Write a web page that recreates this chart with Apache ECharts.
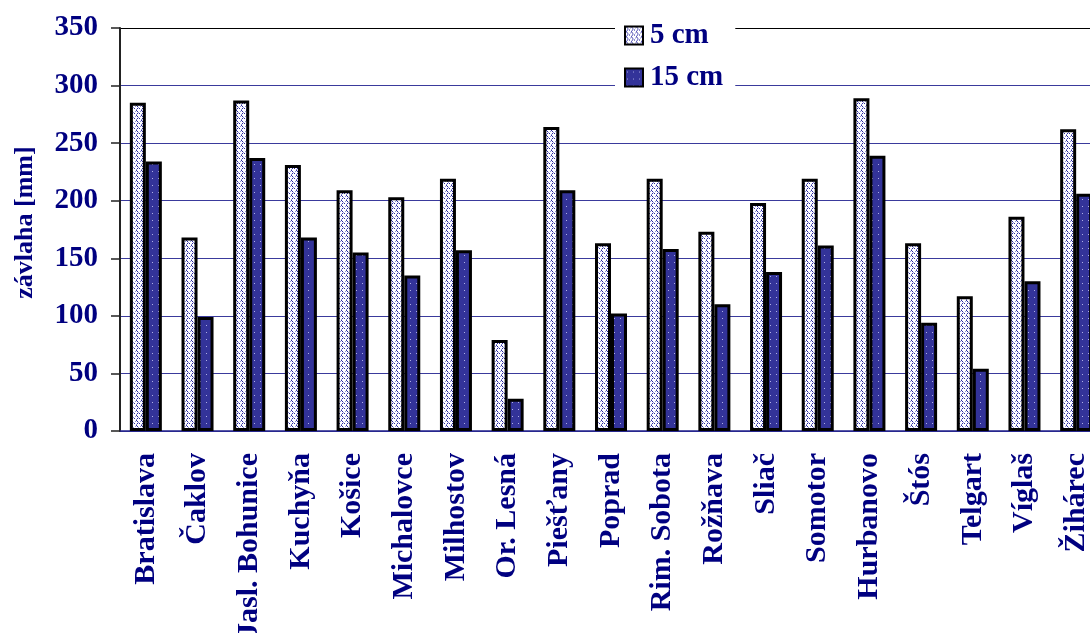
<!DOCTYPE html>
<html>
<head>
<meta charset="utf-8">
<script src="https://cdn.jsdelivr.net/npm/echarts@6/dist/echarts.min.js"></script>
<style>
html,body{margin:0;padding:0;background:#fff;}
#chart{width:1090px;height:633px;}
</style>
</head>
<body>
<div id="chart"></div>
<script>
const categories = ['Bratislava','Čaklov','Jasl. Bohunice','Kuchyňa','Košice','Michalovce','Milhostov','Or. Lesná','Piešťany','Poprad','Rim. Sobota','Rožňava','Sliač','Somotor','Hurbanovo','Štós','Telgart','Víglaš','Žihárec'];
const cm5 = [285, 168, 287, 231, 209, 203, 219, 79, 264, 163, 219, 173, 198, 219, 289, 163, 117, 186, 262];
const cm15 = [234, 99, 237, 168, 155, 135, 157, 28, 209, 102, 158, 110, 138, 161, 239, 94, 54, 130, 206];
const seriesNames = ['5 cm', '15 cm'];
const yTicks = {min: 0, max: 350, interval: 50};

function makePattern(rows, colors, bg) {
  const h = rows.length, w = rows[0].length;
  const c = document.createElement('canvas');
  c.width = w; c.height = h;
  const ctx = c.getContext('2d');
  ctx.fillStyle = bg; ctx.fillRect(0, 0, w, h);
  for (let y = 0; y < h; y++) for (let x = 0; x < w; x++) {
    const ch = rows[y][x];
    if (colors[ch]) { ctx.fillStyle = colors[ch]; ctx.fillRect(x, y, 1, 1); }
  }
  return {image: c, repeat: 'repeat'};
}
const wavePattern = makePattern([
  '.D...',
  'L.D..',
  '...L.',
  '..D.D',
  '.L...'
], {D: '#2a2aa0', L: '#8e8ed8'}, '#ffffff');
const dotPattern = makePattern([
  '......',
  '......',
  '......',
  '..W...',
  '......',
  '......',
  '......'
], {W: '#b0b0e6'}, '#333399');

const navy = '#000080';
const font = 'Liberation Serif';
const chart = echarts.init(document.getElementById('chart'), null, {renderer: 'canvas'});
const gridColors = ['#3a3a9c','#3a3a9c','#3a3a9c','#3a3a9c','#3a3a9c','#3a3a9c','#3a3a9c','#000000'];
chart.setOption({
  animation: false,
  backgroundColor: '#ffffff',
  grid: {left: 120, top: 28, bottom: 202, right: -12, containLabel: false, outerBoundsMode: 'none'},
  legend: {
    orient: 'vertical', left: 615, top: 14,
    padding: [7, 12, 7, 9],
    backgroundColor: '#ffffff',
    itemWidth: 18, itemHeight: 18, itemGap: 13,
    icon: 'rect',
    textStyle: {fontFamily: font, fontWeight: 'bold', fontSize: 29, color: navy, padding: [0, 0, 0, 2]},
    data: seriesNames
  },
  xAxis: {
    type: 'category', data: categories,
    axisLine: {lineStyle: {color: '#22228a', width: 1.5}},
    axisTick: {length: 10, lineStyle: {color: '#22228a', width: 1.5}},
    axisLabel: {rotate: 90, margin: 22, fontFamily: font, fontWeight: 'bold', fontSize: 30, color: navy, interval: 0}
  },
  yAxis: {
    type: 'value', min: yTicks.min, max: yTicks.max, interval: yTicks.interval,
    name: 'závlaha [mm]', nameLocation: 'middle', nameGap: 82, nameRotate: 90,
    nameTextStyle: {fontFamily: font, fontWeight: 'bold', fontSize: 26, color: navy, padding: [0, 0, 0, 14]},
    axisLine: {show: true, lineStyle: {color: '#222', width: 2}},
    axisTick: {show: true, length: 9, lineStyle: {color: '#222', width: 1.5}},
    axisLabel: {margin: 22, fontFamily: font, fontWeight: 'bold', fontSize: 29, color: navy},
    splitLine: {show: true, lineStyle: {color: gridColors, width: 1.2}}
  },
  series: [
    {name: seriesNames[0], type: 'bar', data: cm5, barWidth: 16, barGap: '0%',
     itemStyle: {color: wavePattern, borderColor: '#000', borderWidth: 3}},
    {name: seriesNames[1], type: 'bar', data: cm15, barWidth: 16, barGap: '0%',
     itemStyle: {color: dotPattern, borderColor: '#000', borderWidth: 3}}
  ]
});
</script>
</body>
</html>
